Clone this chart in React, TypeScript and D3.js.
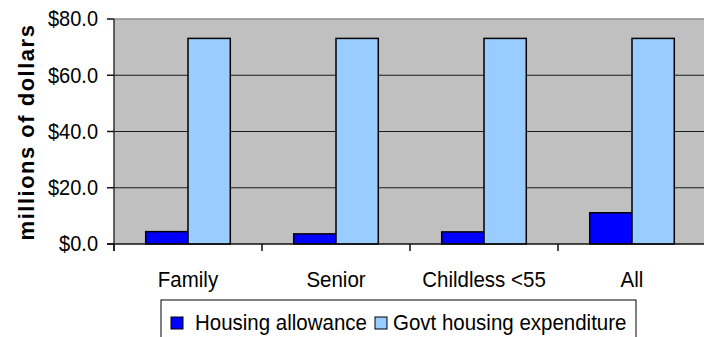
import React from "react";
import * as d3 from "d3";

const categories = ["Family", "Senior", "Childless <55", "All"];
const seriesNames = ["Housing allowance", "Govt housing expenditure"];
const housingAllowance = [4.4, 3.6, 4.3, 11.1];
const govtExpenditure = [73.1, 73.1, 73.1, 73.1];
const yTicks = [0, 20, 40, 60, 80];
const colors = ["#0000FF", "#99CCFF"];

function Stretch({ x, y, sy, children, ...rest }: any) {
  return (
    <text x={x} y={y} transform={`translate(0,${y}) scale(1,${sy}) translate(0,${-y})`} {...rest}>
      {children}
    </text>
  );
}

export default function App() {
  const W = 704, H = 337;
  const left = 114, right = 706, top = 19, bottom = 244;
  const x = d3.scaleBand<string>().domain(categories).range([left, right]).paddingInner(0).paddingOuter(0);
  const xs = d3.scaleBand<string>().domain(seriesNames).range([0, x.bandwidth()]).paddingInner(0).paddingOuter(0.75);
  const y = d3.scaleLinear().domain([0, 80]).range([bottom, top]);
  const fmt = (v: number) => "$" + d3.format(".1f")(v);
  const series = [housingAllowance, govtExpenditure];
  const font = "'Liberation Sans', Arial, sans-serif";

  return (
    <svg width={W} height={H} style={{ position: "absolute", left: 0, top: 0, background: "#fff" }} fontFamily={font}>
      <rect x={left} y={top} width={right - left} height={bottom - top} fill="#C0C0C0" />
      <line x1={left} x2={right} y1={top} y2={top} stroke="#8c8c8c" strokeWidth={1.5} />
      {yTicks.filter(t => t > 0 && t < 80).map(t => (
        <line key={t} x1={left} x2={right} y1={y(t)} y2={y(t)} stroke="#1a1a1a" strokeWidth={1} />
      ))}
      {categories.map((c, i) =>
        series.map((s, j) => (
          <rect
            key={c + j}
            x={(x(c) as number) + (xs(seriesNames[j]) as number)}
            y={y(s[i])}
            width={xs.bandwidth()}
            height={bottom - y(s[i])}
            fill={colors[j]}
            stroke="#000"
            strokeWidth={1.5}
          />
        ))
      )}
      <line x1={left} x2={left} y1={top} y2={251} stroke="#333" strokeWidth={1.5} />
      <line x1={107} x2={right} y1={bottom} y2={bottom} stroke="#111" strokeWidth={1.5} />
      {yTicks.map(t => (
        <g key={t}>
          <line x1={107} x2={left} y1={y(t)} y2={y(t)} stroke="#111" strokeWidth={1.5} />
          <Stretch x={98} y={y(t) + 7.5} sy={1.1} textAnchor="end" fontSize={20}>{fmt(t)}</Stretch>
        </g>
      ))}
      {categories.map((c) => (
        <g key={c}>
          <line x1={x(c) as number} x2={x(c) as number} y1={bottom} y2={251} stroke="#111" strokeWidth={1.5} />
          <Stretch x={(x(c) as number) + x.bandwidth() / 2} y={287} sy={1.12} textAnchor="middle" fontSize={20.5}>{c}</Stretch>
        </g>
      ))}
      <text
        transform={`translate(34,132) rotate(-90)`}
        textAnchor="middle"
        fontSize={22}
        fontWeight="bold"
        letterSpacing={1.5}
      >millions of dollars</text>
      <rect x={161} y={300} width={475} height={60} fill="#fff" stroke="#000" strokeWidth={1} />
      <rect x={171} y={317} width={12} height={12} fill={colors[0]} stroke="#000" strokeWidth={1} />
      <Stretch x={195} y={330} sy={1.12} fontSize={20.5}>{seriesNames[0]}</Stretch>
      <rect x={375} y={317} width={12} height={12} fill={colors[1]} stroke="#000" strokeWidth={1} />
      <Stretch x={393} y={330} sy={1.12} fontSize={20.5}>{seriesNames[1]}</Stretch>
    </svg>
  );
}
